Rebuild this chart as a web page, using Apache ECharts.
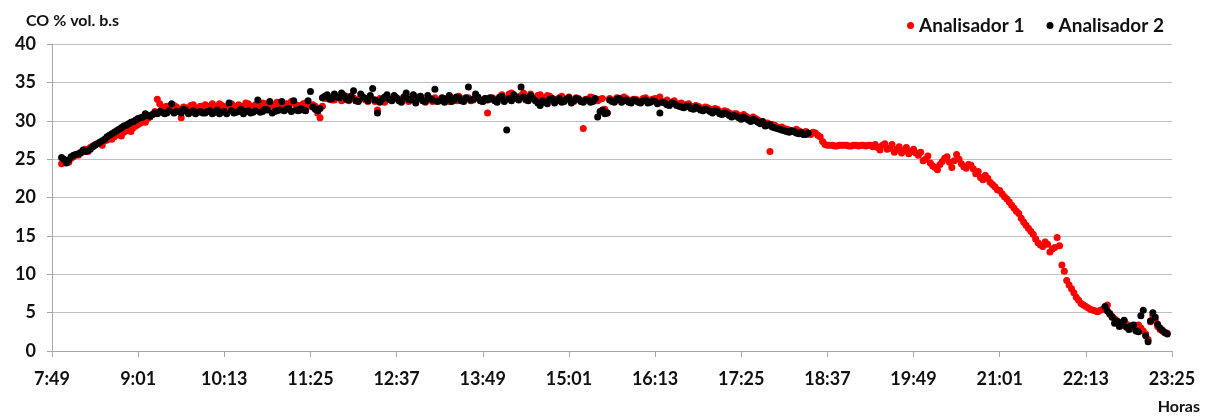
<!DOCTYPE html>
<html>
<head>
<meta charset="utf-8">
<script src="https://cdn.jsdelivr.net/npm/echarts@6/dist/echarts.min.js"></script>
<style>html,body{margin:0;padding:0;background:#fff}#c{width:1215px;height:417px}</style>
</head>
<body>
<div id="c"></div>
<script>
// Time axis: minutes after 7:49 (origin), ticks every 72 minutes
const originMinutes = 7 * 60 + 49;
const axisSpan = 936;          // 7:49 -> 23:25
const tickStep = 72;
const yTicks = [0, 5, 10, 15, 20, 25, 30, 35, 40];

// Analisador 1 (red): two interleaved sample sets, every 4 min from 7:57 and from 7:59
const a1StartA = 8, a1StartB = 10, a1Step = 4;
const a1ValuesA = [
  24.4, 24.8, 25.1, 25.6, 25.9, 26.3, 26.5, 26.9, 27.2, 27.4,
  27.7, 27.9, 28.2, 28.5, 28.9, 29.1, 29.5, 29.9, 30.3, 30.8,
  32.8, 31.6, 31.9, 31.5, 31.8, 30.4, 31.7, 32.0, 31.6, 31.9,
  32.1, 31.7, 31.9, 32.2, 31.8, 32.0, 31.7, 32.1, 31.9, 32.2,
  31.8, 32.0, 32.3, 31.9, 32.1, 32.4, 32.0, 32.2, 32.5, 32.1,
  31.8, 32.3, 32.0, 31.9, 30.4, 32.9, 33.0, 32.7, 33.1, 32.8,
  32.6, 33.0, 32.7, 32.9, 32.5, 32.8, 31.4, 32.6, 33.1, 32.7,
  32.9, 32.5, 32.8, 33.1, 32.6, 32.9, 32.4, 32.8, 33.0, 32.6,
  32.9, 32.5, 32.8, 33.2, 32.6, 33.0, 32.7, 32.9, 32.5, 31.0,
  33.0, 32.6, 33.4, 32.8, 33.6, 32.9, 33.3, 32.7, 33.5, 33.0,
  33.4, 32.8, 33.2, 32.6, 33.0, 32.7, 33.1, 32.5, 32.9, 29.0,
  32.8, 33.0, 32.6, 32.9, 31.0, 32.7, 33.0, 32.6, 32.9, 32.5,
  32.8, 32.6, 33.0, 32.7, 32.9, 33.1, 32.5, 32.3, 32.6, 32.2,
  32.0, 32.2, 31.8, 31.9, 31.6, 31.7, 31.3, 31.5, 31.1, 31.2,
  30.8, 30.9, 30.5, 30.6, 30.2, 30.3, 29.9, 29.6, 26.0, 29.4,
  29.1, 29.0, 28.8, 28.6, 28.7, 28.4, 28.3, 28.5, 28.1, 27.3,
  26.8, 26.8, 26.7, 26.8, 26.8, 26.7, 26.8, 26.8, 26.7, 26.8,
  26.9, 26.2, 27.0, 26.4, 25.9, 26.6, 26.1, 25.7, 26.3, 25.5,
  24.8, 25.4, 24.1, 23.6, 24.7, 25.3, 23.9, 25.6, 24.4, 23.8,
  24.2, 23.1, 22.6, 22.9, 22.0, 21.4, 20.9, 20.1, 19.4, 18.6,
  17.9, 16.8, 16.0, 15.2, 14.1, 13.6, 13.9, 13.3, 14.8, 11.2,
  9.2, 8.1, 7.0, 6.2, 5.8, 5.4, 5.2, 5.3, 5.6, 4.8,
  4.2, 3.6, 3.9, 3.1, 2.9, 3.4, 2.6, 1.5, 4.6, 3.2,
  2.6, 2.3
];
const a1ValuesB = [
  24.9, 24.6, 25.3, 25.5, 26.1, 26.0, 26.7, 27.0, 26.8, 27.5,
  27.6, 28.1, 28.0, 28.7, 28.6, 29.3, 29.7, 29.8, 30.5, 31.2,
  32.2, 31.8, 31.4, 32.0, 31.5, 31.8, 31.4, 32.1, 31.7, 31.6,
  31.9, 32.2, 31.6, 32.0, 31.8, 32.2, 31.9, 31.7, 32.3, 31.9,
  32.1, 31.8, 32.2, 32.0, 31.8, 32.3, 32.1, 31.9, 32.3, 32.0,
  32.2, 31.9, 32.1, 31.0, 31.9, 33.2, 32.7, 33.0, 32.6, 33.2,
  32.9, 32.6, 33.1, 32.7, 33.0, 32.5, 32.9, 32.4, 32.8, 33.0,
  32.7, 33.0, 32.5, 32.8, 33.1, 32.6, 32.9, 32.5, 32.7, 32.9,
  32.7, 33.0, 32.6, 32.9, 32.8, 32.6, 33.1, 32.7, 32.9, 32.8,
  32.8, 33.1, 32.9, 33.5, 33.2, 32.8, 33.6, 33.1, 32.9, 33.3,
  33.0, 33.3, 32.9, 32.8, 33.2, 32.9, 32.7, 33.0, 32.6, 32.8,
  33.1, 32.7, 32.8, 31.5, 32.9, 32.6, 32.8, 33.1, 32.7, 32.8,
  32.5, 32.9, 32.6, 32.8, 32.7, 32.4, 32.7, 32.4, 32.1, 32.3,
  32.1, 31.9, 32.0, 31.7, 31.8, 31.5, 31.6, 31.2, 31.3, 31.0,
  30.9, 30.7, 30.8, 30.4, 30.5, 30.1, 29.8, 29.7, 29.5, 29.2,
  29.2, 28.9, 28.7, 28.9, 28.5, 28.6, 28.2, 28.4, 27.9, 26.9,
  26.8, 26.7, 26.8, 26.8, 26.7, 26.8, 26.7, 26.8, 26.8, 26.6,
  26.5, 26.8, 26.3, 26.9, 26.3, 25.8, 26.5, 26.0, 25.8, 25.9,
  25.0, 24.5, 23.9, 24.3, 25.1, 24.6, 24.8, 25.0, 24.0, 24.3,
  23.7, 23.4, 22.3, 22.5, 21.7, 21.0, 20.5, 19.8, 19.0, 18.2,
  17.3, 16.4, 15.6, 14.6, 13.8, 14.2, 12.9, 13.5, 13.7, 10.4,
  8.6, 7.6, 6.6, 6.0, 5.6, 5.3, 5.1, 5.4, 6.0, 4.5,
  3.9, 3.3, 3.5, 2.9, 3.2, 3.0, 2.2, 3.8, 4.0, 2.8,
  2.4
];

// Analisador 2 (black): morning-evening block (to 18:21) and late block (from 22:29)
const a2StartA = 8, a2StartA2 = 10, a2Step = 4;
const a2ValuesA = [
  25.2, 24.5, 25.3, 25.6, 25.8, 26.0, 26.3, 26.8, 27.2, 27.6,
  28.1, 28.5, 28.9, 29.3, 29.6, 29.9, 30.3, 30.5, 30.7, 30.8,
  30.9, 31.1, 31.0, 32.2, 31.2, 31.0, 31.3, 31.1, 30.9, 31.2,
  31.0, 31.3, 31.1, 30.9, 31.2, 32.3, 31.0, 31.2, 30.9, 31.3,
  31.1, 32.7, 31.2, 31.4, 31.0, 31.3, 32.5, 31.5, 31.2, 31.4,
  31.6, 31.3, 33.8, 31.5, 31.6, 33.2, 32.8, 33.5, 33.0, 33.3,
  32.7, 33.9, 32.5, 33.1, 32.6, 34.2, 31.0, 32.8, 33.4, 32.6,
  33.0, 32.4, 33.6, 32.7, 32.3, 33.2, 32.5, 32.9, 34.1, 32.6,
  32.4, 33.3, 32.7, 33.0, 32.5, 34.4, 32.8, 33.1, 32.5, 32.7,
  32.9, 32.4, 33.2, 28.8, 32.6, 33.1, 34.4, 32.8, 33.3, 32.6,
  32.0, 32.4, 32.8, 32.3, 32.9, 32.5, 33.0, 32.6, 32.8, 32.4,
  32.7, 32.5, 30.5, 31.4, 31.0, 32.5, 32.8, 32.4, 32.7, 32.3,
  32.6, 32.3, 32.7, 32.4, 32.5, 31.0, 32.3, 32.0, 32.2, 31.9,
  31.7, 31.9, 31.5, 31.6, 31.3, 31.4, 31.0, 31.2, 30.8, 30.9,
  30.5, 30.6, 30.2, 30.3, 29.9, 30.0, 29.6, 29.3, 29.5, 29.1,
  28.9, 28.7, 28.5, 28.6, 28.3, 28.2, 28.4
];
const a2ValuesA2 = [
  25.0, 24.9, 25.5, 25.7, 26.2, 26.1, 26.6, 27.0, 27.4, 27.9,
  28.3, 28.7, 29.1, 29.4, 29.8, 30.1, 30.4, 30.9, 30.6, 31.0,
  31.2, 30.9, 31.3, 31.0, 31.2, 31.5, 30.9, 31.3, 31.1, 31.0,
  31.2, 30.9, 31.4, 31.1, 30.9, 31.3, 31.1, 31.5, 31.2, 31.0,
  31.3, 31.1, 31.5, 32.5, 31.2, 31.4, 31.3, 31.6, 32.6, 31.3,
  31.4, 32.6, 31.8, 31.3, 33.0, 33.4, 32.9, 33.1, 33.6, 32.8,
  33.2, 32.6, 33.5, 32.9, 33.3, 32.7, 32.4, 33.1, 32.8, 33.3,
  32.6, 33.1, 32.8, 33.4, 32.9, 32.6, 33.3, 32.7, 32.5, 33.0,
  32.8, 32.5, 33.1, 32.6, 33.0, 32.7, 33.5, 32.6, 32.9, 33.0,
  32.6, 33.0, 32.5, 32.9, 33.4, 32.7, 33.1, 32.6, 32.9, 32.3,
  32.6, 32.2, 32.9, 32.6, 32.4, 32.8, 32.3, 32.9, 32.5, 32.7,
  32.4, 32.9, 31.2, 30.9, 32.7, 32.4, 32.9, 32.6, 32.4, 32.7,
  32.4, 32.6, 32.3, 32.6, 32.2, 32.4, 32.1, 32.3, 32.0, 31.8,
  31.9, 31.6, 31.8, 31.4, 31.5, 31.2, 31.3, 30.9, 31.0, 30.7,
  30.7, 30.4, 30.5, 30.1, 30.2, 29.8, 29.9, 29.4, 29.2, 29.0,
  28.8, 28.6, 28.7, 28.4, 28.5, 28.2
];
const a2StartB = 880, a2StartB2 = 882;
const a2ValuesB = [5.8, 4.9, 3.6, 3.2, 4.0, 2.8, 3.4, 2.5, 5.3, 1.2, 5.0, 3.5, 2.7, 2.2];
const a2ValuesB2 = [5.2, 4.4, 3.9, 3.7, 3.1, 3.3, 2.6, 4.6, 2.0, 3.9, 4.4, 3.0, 2.4];

function pairs(start, step, vals) {
  return vals.map((v, i) => [start + i * step, v]);
}
function fmtTime(v) {
  const t = originMinutes + v;
  const h = Math.floor(t / 60), m = Math.round(t % 60);
  return h + ':' + (m < 10 ? '0' : '') + m;
}

const FONT = 'Lato';
const chart = echarts.init(document.getElementById('c'));
chart.setOption({
  animation: false,
  backgroundColor: '#fff',
  title: {
    text: 'CO % vol. b.s', left: 21, top: 8,
    textStyle: { fontFamily: FONT, fontWeight: 'bold', fontSize: 16, color: '#111' }
  },
  legend: {
    right: 46, top: 11, itemWidth: 7, itemHeight: 7, itemGap: 22,
    icon: 'circle',
    textStyle: { fontFamily: FONT, fontWeight: 'bold', fontSize: 19, color: '#111' },
    data: ['Analisador 1', 'Analisador 2']
  },
  grid: { left: 52, right: 43, top: 44, bottom: 66 },
  xAxis: {
    type: 'value', min: 0, max: axisSpan, interval: tickStep,
    axisLine: { show: true, lineStyle: { color: '#a6a6a6', width: 1 } },
    axisTick: { show: true, length: 6, lineStyle: { color: '#a6a6a6' } },
    splitLine: { show: false },
    axisLabel: {
      formatter: fmtTime, margin: 19,
      fontFamily: FONT, fontWeight: 'bold', fontSize: 18, color: '#111'
    },
    name: 'Horas', nameLocation: 'end', nameGap: 0,
    nameTextStyle: { fontFamily: FONT, fontWeight: 'bold', fontSize: 16, color: '#111',
      align: 'right', verticalAlign: 'top', padding: [48, -28, 0, 0] }
  },
  yAxis: {
    type: 'value', min: 0, max: 40, interval: 5,
    axisLine: { show: true, lineStyle: { color: '#a6a6a6', width: 1 } },
    axisTick: { show: true, length: 5, lineStyle: { color: '#a6a6a6' } },
    splitLine: { show: true, lineStyle: { color: '#bfbfbf', width: 1 } },
    axisLabel: {
      margin: 16,
      formatter: v => (yTicks.indexOf(v) >= 0 ? String(v) : ''),
      fontFamily: FONT, fontWeight: 'bold', fontSize: 18, color: '#111'
    }
  },
  series: [
    {
      name: 'Analisador 1', type: 'scatter', symbol: 'circle', symbolSize: 7,
      itemStyle: { color: '#ff0000', opacity: 1 },
      data: pairs(a1StartA, a1Step, a1ValuesA).concat(pairs(a1StartB, a1Step, a1ValuesB)), z: 2
    },
    {
      name: 'Analisador 2', type: 'scatter', symbol: 'circle', symbolSize: 7,
      itemStyle: { color: '#000000', opacity: 1 },
      data: pairs(a2StartA, a2Step, a2ValuesA)
        .concat(pairs(a2StartA2, a2Step, a2ValuesA2))
        .concat(pairs(a2StartB, a2Step, a2ValuesB))
        .concat(pairs(a2StartB2, a2Step, a2ValuesB2)), z: 3
    }
  ]
});
</script>
</body>
</html>
